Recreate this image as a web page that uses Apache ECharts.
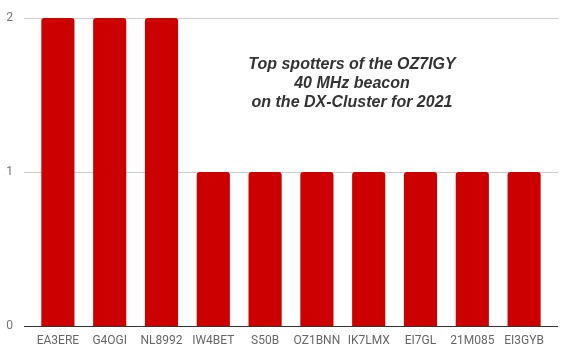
<!DOCTYPE html>
<html>
<head>
<meta charset="utf-8">
<script src="https://cdn.jsdelivr.net/npm/echarts@6/dist/echarts.min.js"></script>
<style>
html,body{margin:0;padding:0;background:#fff;}
#main{width:562px;height:354px;}
</style>
</head>
<body>
<div id="main"></div>
<script>
// spotters and number of spots
var spotters = ['EA3ERE','G4OGI','NL8992','IW4BET','S50B','OZ1BNN','IK7LMX','EI7GL','21M085','EI3GYB'];
var spots = [2, 2, 2, 1, 1, 1, 1, 1, 1, 1];
var titleLines = ['Top spotters of the OZ7IGY', '40 MHz beacon', 'on the DX-Cluster for 2021'];

var myChart = echarts.init(document.getElementById('main'));
var option = {
    animation: false,
    title: {
        text: titleLines.join('\n'),
        left: 347,
        top: 50,
        textAlign: 'center',
        textStyle: {
            fontFamily: '"Liberation Sans", Arial, sans-serif',
            fontSize: 16,
            fontWeight: 'bold',
            fontStyle: 'italic',
            color: '#333',
            lineHeight: 19
        }
    },
    grid: [
        // bars
        { left: 32, right: 12, top: 18, bottom: 28 },
        // wide grid only for the horizontal lines and y labels
        { left: 24, right: 4, top: 18, bottom: 28 }
    ],
    xAxis: [
        {
            type: 'category',
            gridIndex: 0,
            data: spotters,
            axisTick: { show: false },
            axisLine: { show: false },
            axisLabel: {
                color: '#666',
                fontSize: 12,
                fontFamily: 'Roboto, Arial, sans-serif',
                margin: 9,
                interval: 0
            }
        },
        {
            type: 'value',
            gridIndex: 1,
            show: false
        }
    ],
    yAxis: [
        {
            type: 'value',
            gridIndex: 0,
            min: 0,
            max: 2,
            interval: 1,
            show: false
        },
        {
            type: 'value',
            gridIndex: 1,
            min: 0,
            max: 2,
            interval: 1,
            axisLine: { show: false },
            axisTick: { show: false },
            axisLabel: {
                color: '#757575',
                fontSize: 12,
                fontFamily: 'Roboto, Arial, sans-serif',
                margin: 11
            },
            splitLine: {
                lineStyle: { color: ['#333', '#ccc', '#ccc'], width: 1 }
            }
        }
    ],
    series: [
        {
            type: 'bar',
            xAxisIndex: 0,
            yAxisIndex: 0,
            data: spots,
            barCategoryGap: '36%',
            itemStyle: { color: '#cc0000', borderRadius: [3, 3, 0, 0] }
        }
    ]
};
myChart.setOption(option, true);
</script>
</body>
</html>
